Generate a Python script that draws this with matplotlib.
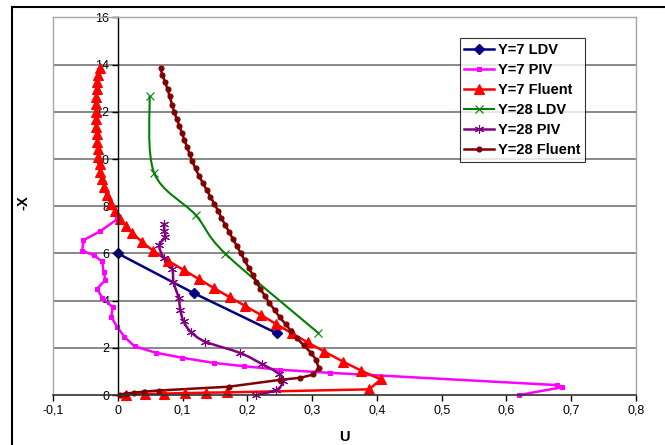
import numpy as np
import matplotlib
matplotlib.use("Agg")
import matplotlib.pyplot as plt
from matplotlib.path import Path
from matplotlib.patches import PathPatch
from matplotlib.lines import Line2D
from matplotlib.ticker import FuncFormatter, MultipleLocator

plt.rcParams['font.family'] = ['Liberation Sans', 'DejaVu Sans']

# ---- data: velocity U versus position -X ----
y7_ldv_u = [0.0, 0.117, 0.246]
y7_ldv_x = [6.0, 4.32, 2.61]

y7_piv_u = [-0.001, -0.027, -0.053, -0.055, -0.037, -0.024, -0.022, -0.019, -0.032,
            -0.024, -0.008, -0.010, -0.001, 0.010, 0.026, 0.059, 0.099, 0.148, 0.195,
            0.250, 0.327, 0.678, 0.686, 0.620]
y7_piv_x = [7.45, 6.94, 6.56, 6.12, 5.92, 5.66, 5.22, 4.88, 4.50,
            4.12, 3.72, 3.30, 2.89, 2.47, 2.06, 1.79, 1.58, 1.36, 1.22,
            1.07, 0.94, 0.42, 0.33, 0.0]

y7_fluent_u = [-0.028, -0.031, -0.032, -0.032, -0.033, -0.033, -0.034, -0.033, -0.033,
               -0.032, -0.032, -0.031, -0.030, -0.028, -0.027, -0.024, -0.021, -0.017,
               -0.011, -0.004, 0.004, 0.012, 0.022, 0.037, 0.055, 0.078, 0.1015, 0.126,
               0.149, 0.173, 0.197, 0.221, 0.245, 0.269, 0.293, 0.319, 0.348, 0.376,
               0.406, 0.388, 0.168, 0.136, 0.104, 0.072, 0.042, 0.012]
y7_fluent_x = [13.84, 13.56, 13.28, 12.95, 12.64, 12.33, 12.0, 11.69, 11.37,
               11.06, 10.73, 10.42, 10.10, 9.79, 9.46, 9.15, 8.83, 8.47,
               8.10, 7.78, 7.46, 7.17, 6.88, 6.50, 6.10, 5.68, 5.30, 4.90,
               4.52, 4.14, 3.77, 3.39, 3.00, 2.61, 2.23, 1.84, 1.41, 1.03,
               0.66, 0.24, 0.11, 0.10, 0.08, 0.06, 0.04, 0.02]

y28_ldv_u = [0.049, 0.056, 0.120, 0.166, 0.309]
y28_ldv_x = [12.65, 9.42, 7.63, 5.99, 2.64]

y28_piv_u = [0.071, 0.072, 0.073, 0.064, 0.071, 0.084, 0.086, 0.094, 0.0965, 0.1015,
             0.113, 0.135, 0.189, 0.222, 0.249, 0.255, 0.245, 0.214]
y28_piv_x = [7.25, 6.95, 6.68, 6.34, 5.80, 5.34, 4.78, 4.12, 3.62, 3.12,
             2.67, 2.26, 1.78, 1.32, 0.90, 0.58, 0.22, 0.0]

y28_fluent_u = [0.066, 0.069, 0.073, 0.077, 0.080, 0.084, 0.087, 0.091, 0.095, 0.099,
                0.103, 0.107, 0.111, 0.115, 0.120, 0.125, 0.131, 0.137, 0.143, 0.149,
                0.155, 0.160, 0.166, 0.172, 0.178, 0.184, 0.190, 0.196, 0.202, 0.208,
                0.214, 0.220, 0.227, 0.234, 0.242, 0.250, 0.259, 0.268, 0.277, 0.287,
                0.298, 0.306, 0.310, 0.302, 0.282, 0.250, 0.171, 0.063, 0.040, 0.025,
                0.012, 0.003]
y28_fluent_x = [13.84, 13.55, 13.25, 12.95, 12.65, 12.30, 12.00, 11.70, 11.40, 11.10,
                10.80, 10.50, 10.20, 9.90, 9.60, 9.30, 9.00, 8.70, 8.40, 8.10,
                7.80, 7.50, 7.20, 6.90, 6.60, 6.30, 6.00, 5.70, 5.40, 5.10,
                4.80, 4.50, 4.20, 3.90, 3.60, 3.30, 3.00, 2.70, 2.40, 2.10,
                1.80, 1.50, 1.15, 0.87, 0.73, 0.64, 0.35, 0.19, 0.14, 0.10,
                0.06, 0.02]

# name, U, -X, style, smoothed line?
series = [
    ("Y=7 LDV", y7_ldv_u, y7_ldv_x,
     dict(color="#000080", marker="D", ms=5.5, mew=1.0, lw=1.8), False),
    ("Y=7 PIV", y7_piv_u, y7_piv_x,
     dict(color="#FF00FF", marker="s", ms=2.6, mew=0.8, lw=1.8), False),
    ("Y=7 Fluent", y7_fluent_u, y7_fluent_x,
     dict(color="#FF0000", marker="^", ms=7.5, mew=0.8, lw=1.8), False),
    ("Y=28 LDV", y28_ldv_u, y28_ldv_x,
     dict(color="#008000", marker="x", ms=6, mew=0.8, lw=1.5), True),
    ("Y=28 PIV", y28_piv_u, y28_piv_x,
     dict(color="#800080", marker=(6, 2, 0), ms=6.5, mew=0.8, lw=1.8), True),
    ("Y=28 Fluent", y28_fluent_u, y28_fluent_x,
     dict(color="#800000", marker="o", ms=3.6, mew=0.8, lw=1.8), False),
]


def smooth_path(u, x):
    """Cubic Bezier path through the points (smoothed line style)."""
    pts = np.column_stack([u, x]).astype(float)
    n = len(pts)
    verts = [pts[0]]
    codes = [Path.MOVETO]
    for i in range(n - 1):
        p0 = pts[i - 1] if i > 0 else pts[i]
        p1 = pts[i]
        p2 = pts[i + 1]
        p3 = pts[i + 2] if i + 2 < n else pts[i + 1]
        verts += [p1 + (p2 - p0) / 6.0, p2 - (p3 - p1) / 6.0, p2]
        codes += [Path.CURVE4] * 3
    return Path(verts, codes)


W, H = 665, 445
fig = plt.figure(figsize=(W / 100, H / 100), dpi=100)
fig.patch.set_facecolor("white")

left, right, top, bottom = 53, 636, 17.4, 395
ax = fig.add_axes([left / W, 1 - bottom / H, (right - left) / W, (bottom - top) / H])
ax.set_xlim(-0.1, 0.8)
ax.set_ylim(0, 16)

# horizontal gridlines
for g in range(2, 16, 2):
    ax.axhline(g, color="#7f7f7f", lw=1.3, zorder=0.5)

handles = []
for name, u, x, st, smooth in series:
    if smooth:
        patch = PathPatch(smooth_path(u, x), fill=False, edgecolor=st["color"],
                          lw=st["lw"], capstyle="round", joinstyle="round", zorder=2)
        ax.add_patch(patch)
    else:
        ax.plot(u, x, color=st["color"], lw=st["lw"], solid_joinstyle="round", zorder=2)
    ax.plot(u, x, ls="none", marker=st["marker"], ms=st["ms"], mew=st["mew"],
            color=st["color"], mfc=st["color"], mec=st["color"], zorder=2.1, clip_on=False)
    handles.append(Line2D([], [], color=st["color"], lw=st["lw"], marker=st["marker"],
                          ms=st["ms"], mew=st["mew"], mfc=st["color"], mec=st["color"]))

# axes: y axis through U = 0, x axis along -X = 0, grey plot-area frame
ax.spines["left"].set_position(("data", 0))
ax.spines["left"].set_color("black")
ax.spines["left"].set_linewidth(1.0)
ax.spines["bottom"].set_color("#303030")
ax.spines["bottom"].set_linewidth(1.2)
for s in ("top", "right"):
    ax.spines[s].set_color("#a6a6a6")
    ax.spines[s].set_linewidth(1.0)
ax.add_line(Line2D([-0.1, -0.1], [0, 16], color="#a6a6a6", lw=1.0, clip_on=False, zorder=0.6))

ax.xaxis.set_major_locator(MultipleLocator(0.1))
ax.yaxis.set_major_locator(MultipleLocator(2))


def comma_fmt(v, pos):
    if abs(v) < 1e-9:
        return "0"
    return f"{v:.1f}".replace(".", ",")


ax.xaxis.set_major_formatter(FuncFormatter(comma_fmt))
ax.yaxis.set_major_formatter(FuncFormatter(lambda v, p: f"{v:.0f}"))
ax.tick_params(axis="both", direction="out", length=4, width=1.0, labelsize=9,
               colors="black", pad=2)
ax.tick_params(axis="x", pad=3)

fig.text(23 / W, 1 - 203 / H, "-X", rotation=90, ha="center", va="center",
         fontsize=10.5, fontweight="bold")
fig.text(344 / W, 1 - 437 / H, "U", ha="center", va="center",
         fontsize=10.5, fontweight="bold")

leg = fig.legend(handles, [s[0] for s in series], loc="upper left",
                 bbox_to_anchor=(460 / W, 1 - 38.3 / H), bbox_transform=fig.transFigure,
                 frameon=True, fancybox=False, borderaxespad=0, borderpad=0.3,
                 handlelength=2.0, handletextpad=0.3, labelspacing=0.42,
                 prop=dict(weight="bold", size=10.5))
leg.get_frame().set_edgecolor("black")
leg.get_frame().set_linewidth(0.8)

# outer chart frame
fig.add_artist(Line2D([12 / W, 12 / W], [1 - 7 / H, 0], color="black", lw=1.5,
                      transform=fig.transFigure))
fig.add_artist(Line2D([12 / W, 1], [1 - 7 / H, 1 - 7 / H], color="black", lw=1.5,
                      transform=fig.transFigure))

fig.savefig("out.png", dpi=100, facecolor="white")
